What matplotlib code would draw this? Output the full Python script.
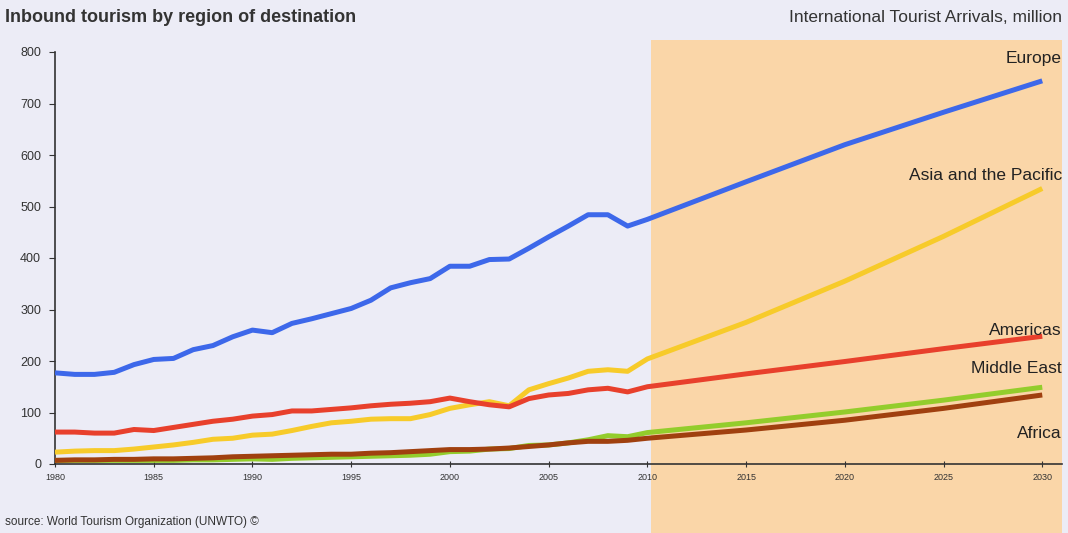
import matplotlib.pyplot as plt
import matplotlib.transforms as mtransforms
from matplotlib.patches import Rectangle

plt.rcParams['font.family'] = ['Liberation Sans', 'DejaVu Sans']

# yearly actuals 1980-2010
anos = list(range(1980, 2011))
europa = [177, 174, 174, 178, 193, 203, 205, 222, 230, 247, 260, 255, 273, 282, 292,
          302, 318, 342, 352, 360, 384, 384, 397, 398, 419, 441, 462, 484, 484, 462, 475]
asia = [23, 25, 26, 26, 29, 33, 37, 42, 48, 50, 56, 58, 65, 73, 80,
        83, 87, 88, 88, 96, 108, 115, 121, 113, 144, 156, 167, 180, 183, 180, 204]
americas = [62, 62, 60, 60, 67, 65, 71, 77, 83, 87, 93, 96, 103, 103, 106,
            109, 113, 116, 118, 121, 128, 121, 115, 111, 127, 134, 137, 144, 147, 140, 150]
oriente = [7, 7, 7, 7, 7, 7, 7, 8, 8, 9, 10, 9, 11, 12, 13,
           14, 15, 16, 17, 19, 24, 25, 29, 30, 36, 37, 41, 47, 55, 53, 61]
africa = [7, 8, 8, 9, 9, 10, 10, 11, 12, 14, 15, 16, 17, 18, 19,
          19, 21, 22, 24, 26, 28, 28, 29, 31, 34, 37, 41, 44, 44, 46, 50]

# forecast 2010-2030
anos_prev = [2010, 2015, 2020, 2025, 2030]
europa_prev = [475, 548, 620, 683, 744]
asia_prev = [204, 275, 355, 442, 535]
americas_prev = [150, 175, 199, 224, 248]
oriente_prev = [61, 80, 101, 124, 149]
africa_prev = [50, 66, 85, 108, 134]

nomes = ['Europe', 'Asia and the Pacific', 'Americas', 'Middle East', 'Africa']
cores = ['#3d68ea', '#f7cb2a', '#e8402c', '#93cd2c', '#a0400f']
pos_rotulo = [788, 560, 260, 186, 60]

fundo = '#ececf6'
fig = plt.figure(figsize=(10.68, 5.33), dpi=100, facecolor=fundo)
ax = fig.add_axes([55 / 1068, 1 - 464 / 533, (1062 - 55) / 1068, (464 - 52) / 533])
ax.set_facecolor('none')

# shaded forecast period, running from the header down to the bottom edge
trans = mtransforms.blended_transform_factory(ax.transData, fig.transFigure)
ax.add_patch(Rectangle((2010.2, 0), 20.8, 1 - 40 / 533, transform=trans,
                       facecolor='#fad6a8', edgecolor='none', clip_on=False, zorder=0))

series = [(europa, europa_prev), (asia, asia_prev), (americas, americas_prev),
          (oriente, oriente_prev), (africa, africa_prev)]
ordem = [4, 3, 1, 2, 0]
for i in ordem:
    hist, prev = series[i]
    ax.plot(anos + anos_prev[1:], hist + prev[1:], color=cores[i], lw=3.6,
            solid_capstyle='butt', zorder=3 + i * 0.1)

for nome, y in zip(nomes, pos_rotulo):
    ax.text(2031, y, nome, ha='right', va='center', fontsize=12.5, color='#222222', zorder=5)

ax.set_xlim(1980, 2031)
ax.set_ylim(0, 800)
ax.set_xticks(range(1980, 2031, 5))
ax.set_yticks(range(0, 801, 100))
for lado in ['top', 'right']:
    ax.spines[lado].set_visible(False)
for lado in ['left', 'bottom']:
    ax.spines[lado].set_color('#333333')
    ax.spines[lado].set_linewidth(1.2)
ax.tick_params(axis='y', direction='out', length=4, labelsize=9, colors='#333333', pad=6)
ax.tick_params(axis='x', direction='inout', length=5, labelsize=6.5, colors='#333333', pad=4)

fig.text(5 / 1068, 1 - 18 / 533, 'Inbound tourism by region of destination',
         fontsize=13, fontweight='bold', color='#333333', va='center', ha='left')
fig.text(1062 / 1068, 1 - 18 / 533, 'International Tourist Arrivals, million',
         fontsize=12.5, color='#333333', va='center', ha='right')
fig.text(5 / 1068, 1 - 522 / 533, 'source: World Tourism Organization (UNWTO) \u00a9',
         fontsize=8.5, color='#333333', va='center', ha='left')

fig.savefig('out.png', dpi=100, facecolor=fundo)
